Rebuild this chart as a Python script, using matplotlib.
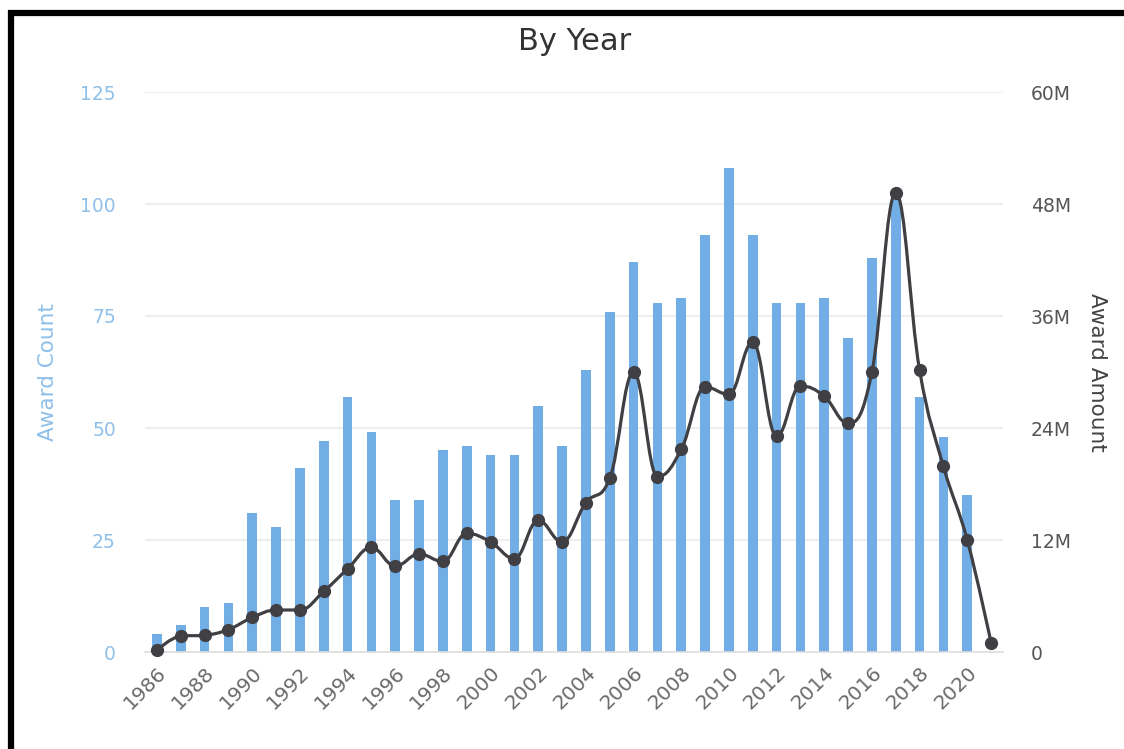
import matplotlib
matplotlib.use('Agg')
import matplotlib.pyplot as plt
from matplotlib.path import Path
from matplotlib.patches import PathPatch
from matplotlib.lines import Line2D
import numpy as np

# data
years = list(range(1986, 2022))
award_count = [4, 6, 10, 11, 31, 28, 41, 47, 57, 49,
               34, 34, 45, 46, 44, 44, 55, 46, 63, 76,
               87, 78, 79, 93, 108, 93, 78, 78, 79, 70,
               88, 101, 57, 48, 35, 0]
award_amount_m = [0.2, 1.7, 1.8, 2.4, 3.7, 4.5, 4.5, 6.5, 8.9, 11.2,
                  9.2, 10.5, 9.7, 12.7, 11.8, 10.0, 14.1, 11.8, 16.0, 18.6,
                  30.0, 18.8, 21.7, 28.4, 27.6, 33.2, 23.1, 28.5, 27.4, 24.5,
                  30.0, 49.2, 30.2, 19.9, 12.0, 1.0]
count_ticks = [0, 25, 50, 75, 100, 125]
amount_ticks = [0, 12, 24, 36, 48, 60]
amount_labels = ['0', '12M', '24M', '36M', '48M', '60M']

BAR_COLOR = '#72aee6'
LINE_COLOR = '#3f3f44'


def spline_path(xs, ys, smoothing=1.5):
    # highcharts-style spline: cubic bezier segments through every point
    n = len(xs)
    denom = smoothing + 1
    left = [None] * n
    right = [None] * n
    for i in range(1, n - 1):
        px, py = xs[i], ys[i]
        lx, ly = xs[i - 1], ys[i - 1]
        nx_, ny = xs[i + 1], ys[i + 1]
        lcx = (smoothing * px + lx) / denom
        lcy = (smoothing * py + ly) / denom
        rcx = (smoothing * px + nx_) / denom
        rcy = (smoothing * py + ny) / denom
        if rcx != lcx:
            corr = ((rcy - lcy) * (rcx - px)) / (rcx - lcx) + py - rcy
            lcy += corr
            rcy += corr
        if lcy > ly and lcy > py:
            lcy = max(ly, py)
            rcy = 2 * py - lcy
        elif lcy < ly and lcy < py:
            lcy = min(ly, py)
            rcy = 2 * py - lcy
        if rcy > ny and rcy > py:
            rcy = max(ny, py)
            lcy = 2 * py - rcy
        elif rcy < ny and rcy < py:
            rcy = min(ny, py)
            lcy = 2 * py - rcy
        left[i] = (lcx, lcy)
        right[i] = (rcx, rcy)
    verts = [(xs[0], ys[0])]
    codes = [Path.MOVETO]
    for i in range(1, n):
        r = right[i - 1] if right[i - 1] is not None else (xs[i - 1], ys[i - 1])
        l = left[i] if left[i] is not None else (xs[i], ys[i])
        verts += [r, l, (xs[i], ys[i])]
        codes += [Path.CURVE4] * 3
    return Path(verts, codes)


fig = plt.figure(figsize=(11.24, 7.49), dpi=100)
ax = fig.add_axes([145 / 1124, 1 - 652 / 749, 858 / 1124, 560 / 749])
ax2 = ax.twinx()

x = np.arange(len(years))
ax.bar(x, award_count, width=0.4, color=BAR_COLOR, zorder=2)

ax.set_xlim(-0.5, len(years) - 0.5)
ax.set_ylim(0, 125)
ax.set_yticks(count_ticks)
ax.yaxis.grid(True, color='#ebebeb', linewidth=1.2)
ax.set_axisbelow(True)

ax.set_xticks(x[::2])
ax.set_xticklabels([str(y) for y in years[::2]], rotation=45, ha='right',
                   va='top', rotation_mode='anchor', fontsize=14.5, color='#6a6a6a')

ax.tick_params(axis='y', length=0, pad=21, labelsize=13.5, labelcolor='#8fc0ea')
ax.tick_params(axis='x', length=0, pad=8)
ax.set_ylabel('Award Count', fontsize=15.5, color='#8fc0ea', labelpad=16)

ax2.set_ylim(0, 60)
ax2.set_yticks(amount_ticks)
ax2.set_yticklabels(amount_labels)
ax2.tick_params(axis='y', length=0, pad=20, labelsize=13.5, labelcolor='#555555')
ax2.set_ylabel('Award Amount', fontsize=15.5, color='#444444', rotation=270,
               labelpad=26)

for a in (ax, ax2):
    for side in ('top', 'left', 'right', 'bottom'):
        a.spines[side].set_visible(False)
ax.spines['bottom'].set_visible(True)
ax.spines['bottom'].set_color('#dedede')
ax.spines['bottom'].set_linewidth(1.2)

path = spline_path(list(x.astype(float)), award_amount_m)
ax2.add_patch(PathPatch(path, facecolor='none', edgecolor=LINE_COLOR,
                        linewidth=2.3, clip_on=False, zorder=3))
ax2.plot(x, award_amount_m, linestyle='none', marker='o', markersize=8.5,
         color=LINE_COLOR, clip_on=False, zorder=4)

fig.text(575 / 1124, 1 - 41 / 749, 'By Year', ha='center', va='center',
         fontsize=22, color='#333333')

# black frame on top and left edge of the screenshot
fig.add_artist(Line2D([8 / 1124, 1], [1 - 13 / 749, 1 - 13 / 749],
                      transform=fig.transFigure, color='black', linewidth=4.5,
                      solid_capstyle='butt'))
fig.add_artist(Line2D([11 / 1124, 11 / 1124], [0, 1 - 10 / 749],
                      transform=fig.transFigure, color='black', linewidth=4.5,
                      solid_capstyle='butt'))

fig.savefig('out.png', dpi=100)
